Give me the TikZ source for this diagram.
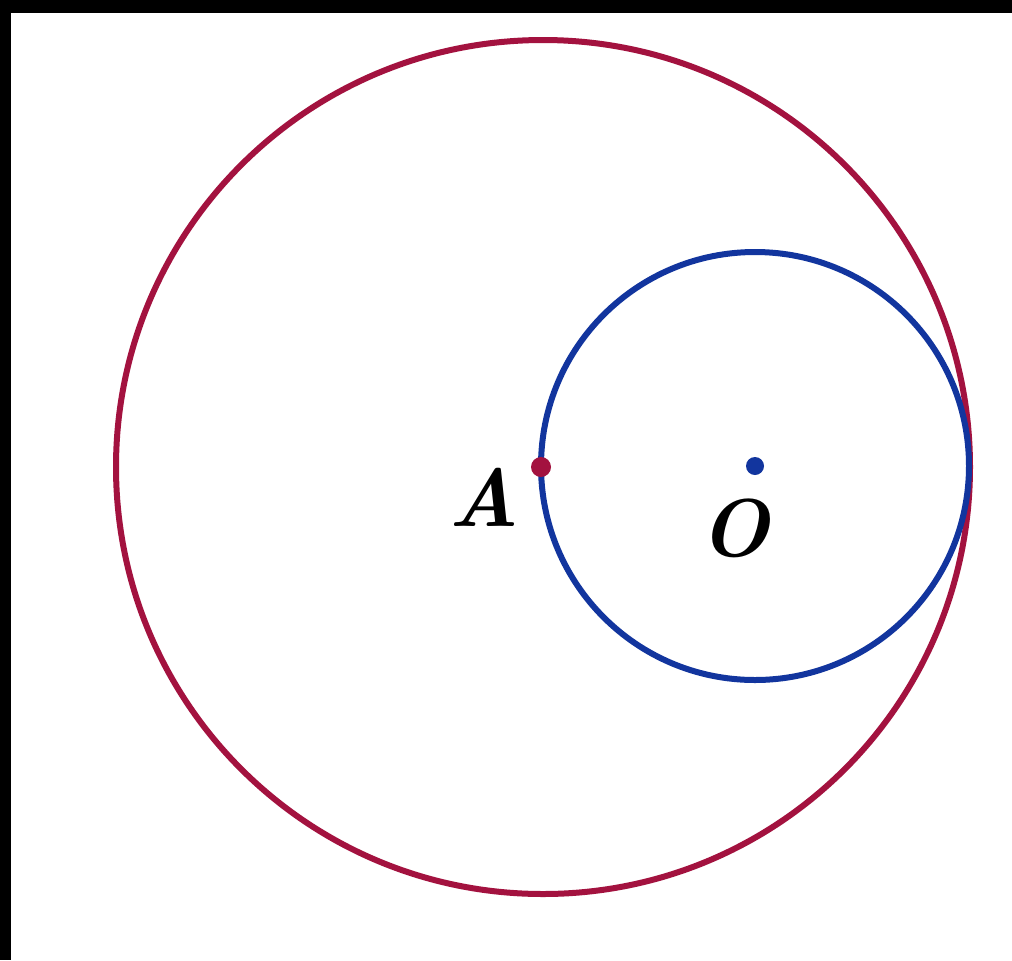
\documentclass[tikz,border=0pt]{standalone}
\definecolor{cred}{HTML}{A3123F}
\definecolor{cblue}{HTML}{12359E}
\begin{document}
\begin{tikzpicture}[x=0.5pt,y=-0.5pt,
  circ/.style={line width=3pt},
  lbl/.style={font=\fontsize{41}{42}\selectfont\bfseries\itshape, inner sep=0pt}]
\useasboundingbox (0,0) rectangle (1012,960);
\fill[white] (0,0) rectangle (1012,960);
\fill[black] (0,0) rectangle (1012,13);
\fill[black] (0,0) rectangle (11,960);
\coordinate (C) at (543,467);
\coordinate (O) at (755,466);
\coordinate (A) at (541,467);
\draw[circ, cred] (C) circle[radius=427];
\draw[circ, cblue] (O) circle[radius=214];
\fill[cred] (A) circle[radius=10];
\fill[cblue] (O) circle[radius=9];
\node[lbl] (lA) at (484,497) {A};
\node[lbl] (lO) at (735,528) {O};
\end{tikzpicture}
\end{document}
